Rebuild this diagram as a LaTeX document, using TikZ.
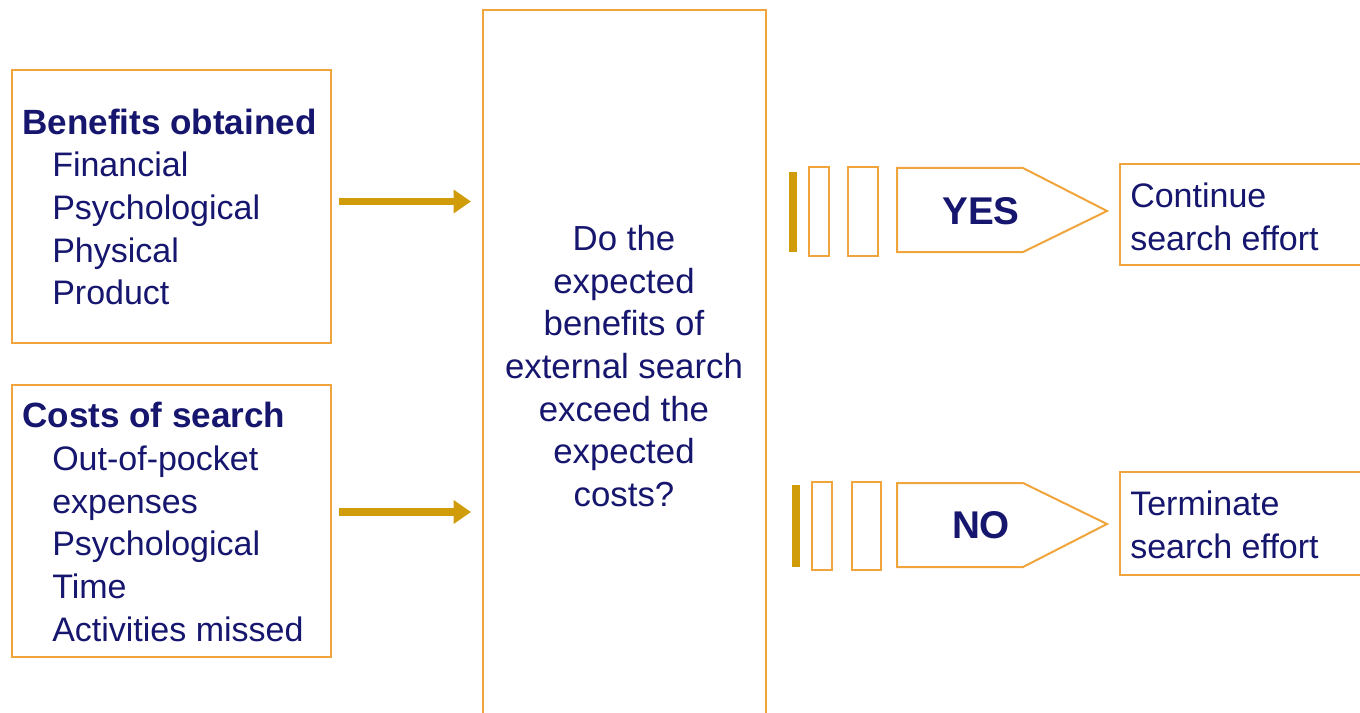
\documentclass[tikz,border=0pt]{standalone}
\usepackage{fontspec}
\setmainfont{Liberation Sans}
\usetikzlibrary{arrows.meta}
\definecolor{boxor}{RGB}{240,165,60}
\definecolor{gold}{RGB}{208,156,10}
\definecolor{navy}{RGB}{22,22,110}
\newcommand{\hdr}[1]{{\fontsize{26.3}{32}\selectfont\bfseries #1}}
\begin{document}
\begin{tikzpicture}[x=0.75pt,y=-0.75pt,
  box/.style={draw=boxor,line width=1.5pt,fill=white,inner sep=0pt},
  txt/.style={text=navy,font=\fontsize{25.5}{32}\selectfont,inner sep=0pt},
  arr/.style={draw=gold,line width=5.8pt,-{Triangle[length=13pt,width=17pt]}},
  bar/.style={fill=gold,draw=none},
  slab/.style={draw=boxor,line width=1.5pt,fill=white}]
\useasboundingbox (0,0) rectangle (1360,713);
% left boxes
\node[box,minimum width=239.25pt,minimum height=204.75pt] (ben) at (171.5,206.5) {};
\node[txt,align=left,anchor=west] (bent) at (22,207) {\hdr{Benefits obtained}\\\hspace*{22.5pt}Financial\\\hspace*{22.5pt}Psychological\\\hspace*{22.5pt}Physical\\\hspace*{22.5pt}Product};
\node[box,minimum width=239.25pt,minimum height=204pt] (cost) at (171.5,521) {};
\node[txt,align=left,anchor=west] (costt) at (22,522) {\hdr{Costs of search}\\\hspace*{22.5pt}Out-of-pocket\\\hspace*{22.5pt}expenses\\\hspace*{22.5pt}Psychological\\\hspace*{22.5pt}Time\\\hspace*{22.5pt}Activities missed};
% centre box
\node[box,minimum width=212.25pt,minimum height=540pt] (mid) at (624.5,370) {};
\node[txt,font=\fontsize{26.1}{32}\selectfont,align=center] (midt) at (624,366) {Do the\\expected\\benefits of\\external search\\exceed the\\expected\\costs?};
% arrows
\draw[arr,shorten <=5pt,shorten >=8.25pt] ([yshift=3.75pt]ben.east) -- ([yshift=3.75pt]ben.east -| mid.west);
\draw[arr,shorten <=5pt,shorten >=8.25pt] ([yshift=6.75pt]cost.east) -- ([yshift=6.75pt]cost.east -| mid.west);
% YES row
\fill[bar] (789,172) rectangle (797,252);
\draw[slab] (809,167) rectangle (829,256);
\draw[slab] (848,167) rectangle (878,256);
\coordinate (yl) at (897,168);
\draw[slab] (yl) -- (1023,168) -- (1107,211) -- (1023,252) -- (897,252) -- cycle;
\node[txt,font=\fontsize{29}{34}\selectfont\bfseries] (yes) at (981,211) {YES};
\node[box,minimum width=187.5pt,minimum height=75.75pt] (cont) at (1245,214.5) {};
\node[txt,align=left,anchor=west] (contt) at (1130,217) {Continue\\search effort};
% NO row
\fill[bar] (792,485) rectangle (800,567);
\draw[slab] (812,482) rectangle (832,570);
\draw[slab] (852,482) rectangle (881,570);
\coordinate (nl) at (897,483);
\draw[slab] (nl) -- (1023,483) -- (1107,524) -- (1023,567) -- (897,567) -- cycle;
\node[txt,font=\fontsize{29}{34}\selectfont\bfseries] (no) at (981,525) {NO};
\node[box,minimum width=187.5pt,minimum height=77.25pt] (term) at (1245,523.5) {};
\node[txt,align=left,anchor=west] (termt) at (1130,525) {Terminate\\search effort};
\end{tikzpicture}
\end{document}
